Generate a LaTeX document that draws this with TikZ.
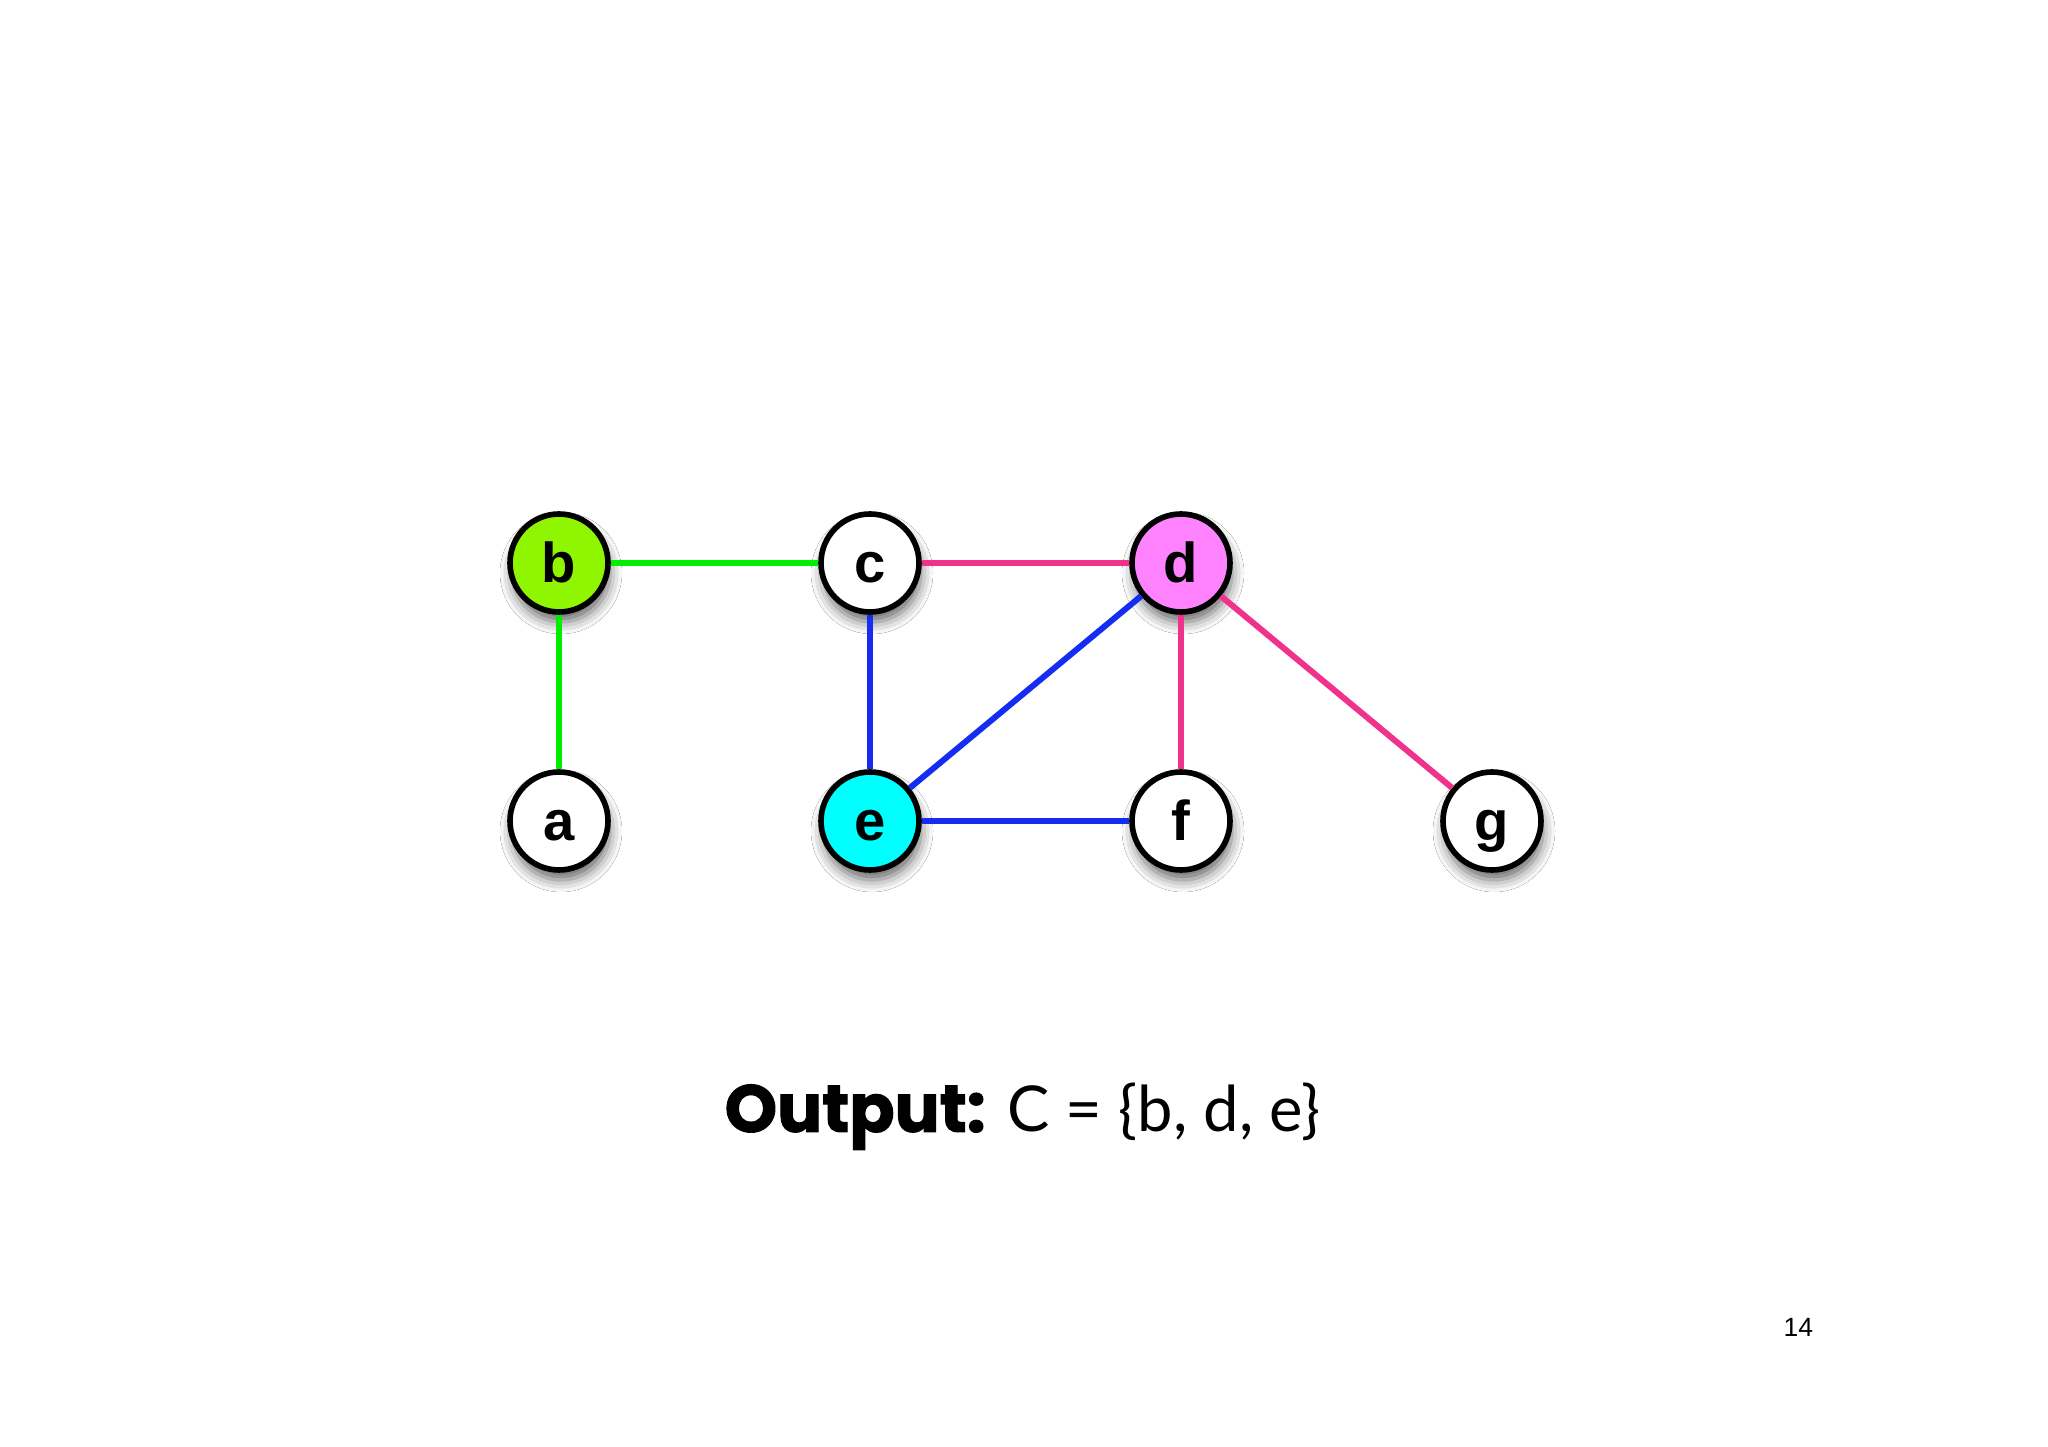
\documentclass[tikz,border=0pt]{standalone}
\usepackage{fontspec}
\usepackage{tikz}
\usetikzlibrary{positioning,shadows.blur}
\newfontfamily\vertexfont{Liberation Sans}
\newfontfamily\outfont{Lato}
\newfontfamily\headfont{Poppins}[BoldFeatures={FakeBold=1.5}]
\definecolor{nodegreen}{RGB}{143,245,0}
\definecolor{nodecyan}{RGB}{0,255,255}
\definecolor{nodepink}{RGB}{255,130,255}
\definecolor{edgegreen}{RGB}{0,238,0}
\definecolor{edgeblue}{RGB}{20,45,240}
\definecolor{edgepink}{RGB}{240,50,140}

\tikzset{
  vertex/.style={circle, draw=black, line width=1.6pt, fill=white,
    minimum size=0.98cm, inner sep=0pt, text height=0.40cm, text depth=0pt,
    font=\vertexfont\bfseries\fontsize{16}{18}\selectfont,
    blur shadow={shadow xshift=0.02cm, shadow yshift=-0.1cm,
      shadow blur radius=0.12cm, shadow opacity=60}},
  greenedge/.style={draw=edgegreen, line width=1.7pt},
  blueedge/.style={draw=edgeblue, line width=1.7pt},
  pinkedge/.style={draw=edgepink, line width=1.7pt}
}

\begin{document}
\begin{tikzpicture}[%
    node distance=2.58cm and 3.11cm,
    on grid
  ]
  \useasboundingbox[fill=white] (0,0) rectangle (20.48,-14.47);

  \node[vertex, fill=nodegreen] (b) at (5.59,-5.63) {b};
  \node[vertex] (c) [right=of b] {c};
  \node[vertex, fill=nodepink] (d) [right=of c] {d};
  \node[vertex] (a) [below=of b] {a};
  \node[vertex, fill=nodecyan] (e) [below=of c] {e};
  \node[vertex] (f) [below=of d] {f};
  \node[vertex] (g) [right=of f] {g};

  \path (b) edge [greenedge] (c);
  \path (b) edge [greenedge] (a);
  \path (c) edge [pinkedge] (d);
  \path (d) edge [pinkedge] (f);
  \path (d) edge [pinkedge] (g);
  \path (c) edge [blueedge] (e);
  \path (e) edge [blueedge] (d);
  \path (e) edge [blueedge] (f);

  \node[anchor=base west, inner sep=0pt, font=\outfont\fontsize{18}{21}\selectfont]
    (output) at (7.24,-11.32) {{\headfont\bfseries\fontsize{19}{21}\selectfont Output:} C = \{b, d, e\}};
  \node[anchor=base west, inner sep=0pt, font=\vertexfont\fontsize{7.5}{9}\selectfont]
    (pagenum) at (17.83,-13.37) {14};
\end{tikzpicture}
\end{document}
